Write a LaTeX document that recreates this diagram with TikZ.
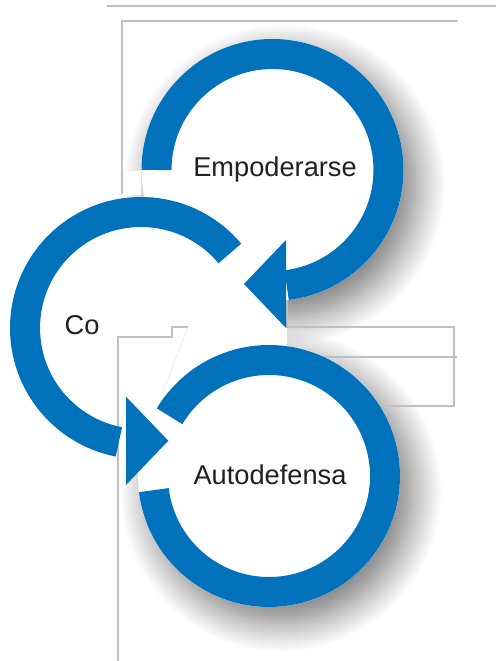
\documentclass[tikz,border=0pt]{standalone}
\usepackage{fontspec}
\setmainfont{Liberation Sans}
\usetikzlibrary{shadows.blur}

\definecolor{ringblue}{RGB}{0,114,188}
\definecolor{linegrey}{RGB}{192,192,192}
\definecolor{textblack}{RGB}{35,31,32}

\tikzset{
	ring/.style={draw=ringblue, line width=0.6cm},
	softshadow/.style={blur shadow={shadow xshift=0.24cm, shadow yshift=-0.3cm, shadow blur radius=0.6cm, shadow blur steps=20, shadow opacity=55}},
	pageline/.style={draw=linegrey, line width=0.7pt},
	ringtext/.style={font=\fontsize{15.5}{18}\selectfont, text=textblack, inner sep=0pt, anchor=base}
}

\begin{document}
\begin{tikzpicture}[x=0.02cm, y=0.02cm]
	\useasboundingbox (0,0) rectangle (496,661);
	\coordinate (emp) at (272.5,491);
	\coordinate (co) at (141,333);
	\coordinate (auto) at (269,185);
	% shadows first (none behind Co), then the white disks
	\foreach \c in {emp,auto} \path [softshadow] (\c) circle (131);
	\fill [white] (118,255) rectangle (287,361);
	\fill [white] (123,466) rectangle (141,490);
	\foreach \c in {emp,co,auto} \fill [white] (\c) circle (131);
	% page frame lines
	\draw [pageline] (107,655) -- (496,655);
	\draw [pageline] (122,467) -- (122,640) -- (458,640);
	\draw [pageline] (287,361) -- (287,334) -- (454,334) -- (454,255) -- (379,255);
	\draw [pageline] (320,304) -- (457,304);
	\draw [pageline] (118,0) -- (118,324) -- (172,324) -- (172,334) -- (188,334);
	\draw [pageline, very thin, opacity=0.5] (188,334) -- (163,269);
	% rings with arrowheads
	\draw [ring] (emp) ++(180:116) arc [start angle=180, end angle=-83, radius=116];
	\fill [ringblue] (emp) ++(13.5,-70) -- ++(0,-88) -- ++(-42,44) -- cycle;
	\draw [ring] (co) ++(40:116) arc [start angle=40, end angle=259, radius=116];
	\fill [ringblue] (co) ++(-15,-68.7) -- ++(0,-88.3) -- ++(42.3,44.3) -- cycle;
	\draw [ring] (auto) ++(187:116) arc [start angle=187, end angle=509, radius=116];
	% labels
	\node [ringtext] (empText) at (275,484.3) {Empoderarse};
	\node [ringtext] (coText) at (82,326.7) {Co};
	\node [ringtext] (autoText) at (270,176) {Autodefensa};
\end{tikzpicture}
\end{document}
